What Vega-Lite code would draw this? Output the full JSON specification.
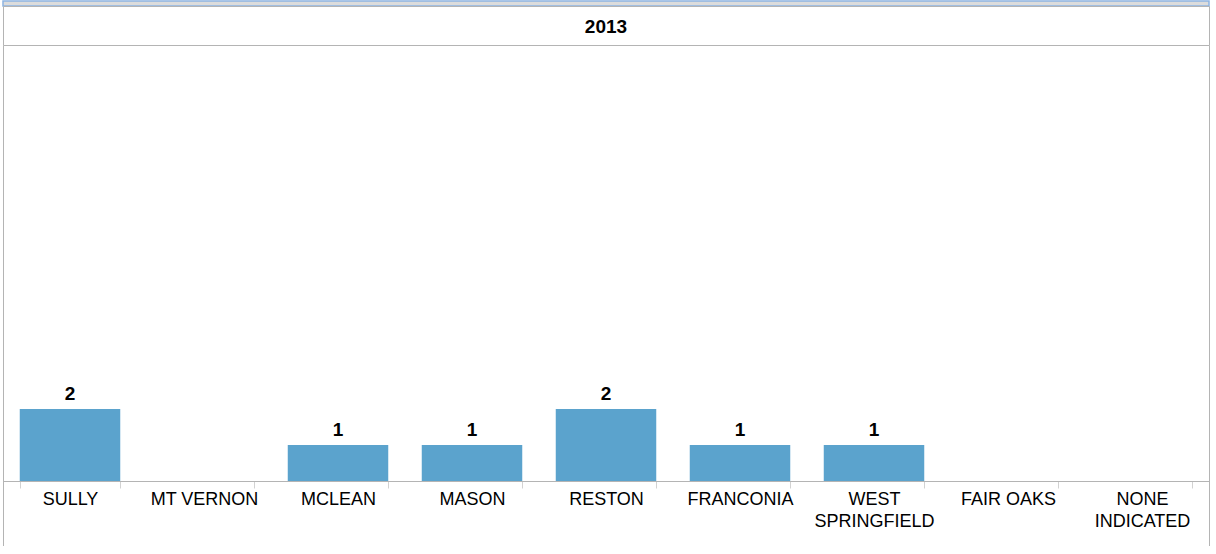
{
  "$schema": "https://vega.github.io/schema/vega-lite/v6.json",
  "padding": {"left": 2, "top": 0, "right": 8, "bottom": 0},
  "spacing": 0,
  "bounds": "flush",
  "config": {"view": {"stroke": null}, "font": "Liberation Sans"},
  "vconcat": [
    {
      "width": 1206,
      "height": 5,
      "data": {"values": []},
      "mark": {"type": "bar"},
      "encoding": {},
      "view": {"fill": "#dcdcdc", "stroke": "#8db4e2", "strokeWidth": 1.5}
    },
    {
      "width": 1206,
      "height": 39,
      "data": {"values": [{"year": "2013"}]},
      "mark": {"type": "text", "fontWeight": "bold", "fontSize": 19, "dy": 1, "color": "#000"},
      "encoding": {"text": {"field": "year"}},
      "view": {"stroke": "#b4b4b4"}
    },
    {
      "width": 1206,
      "height": 501,
      "data": {
        "values": [
          {"district": "SULLY", "count": 2},
          {"district": "MT VERNON", "count": 0},
          {"district": "MCLEAN", "count": 1},
          {"district": "MASON", "count": 1},
          {"district": "RESTON", "count": 2},
          {"district": "FRANCONIA", "count": 1},
          {"district": "WEST SPRINGFIELD", "count": 1},
          {"district": "FAIR OAKS", "count": 0},
          {"district": "NONE INDICATED", "count": 0}
        ]
      },
      "resolve": {"scale": {"y": "independent"}, "axis": {"y": "independent"}},
      "layer": [
        {
          "mark": {"type": "bar", "color": "#5ba3cd"},
          "encoding": {
            "x": {
              "field": "district",
              "type": "nominal",
              "sort": null,
              "scale": {"paddingInner": 0.25, "paddingOuter": 0.125},
              "axis": {
                "title": null,
                "orient": "bottom",
                "offset": -65,
                "labelAngle": 0,
                "labelFontSize": 18,
                "labelColor": "#000",
                "labelFont": "Liberation Sans",
                "labelPadding": 2,
                "labelOverlap": false,
                "labelLineHeight": 22,
                "tickSize": 7,
                "tickBand": "extent",
                "tickColor": "#d2d2d2",
                "domainColor": "#b4b4b4",
                "labelExpr": "datum.label == 'WEST SPRINGFIELD' ? ['WEST', 'SPRINGFIELD'] : datum.label == 'NONE INDICATED' ? ['NONE', 'INDICATED'] : datum.label"
              }
            },
            "y": {
              "field": "count",
              "type": "quantitative",
              "scale": {"domain": [-1.8, 12.1], "nice": false, "zero": false},
              "axis": {"orient": "left", "labels": false, "ticks": false, "grid": false, "title": null, "domainColor": "#b4b4b4"}
            },
            "y2": {"datum": 0}
          }
        },
        {
          "transform": [{"filter": "datum.count > 0"}],
          "mark": {"type": "text", "fontWeight": "bold", "fontSize": 19, "baseline": "bottom", "dy": -5, "color": "#000"},
          "encoding": {
            "x": {"field": "district", "type": "nominal", "sort": null},
            "y": {
              "field": "count",
              "type": "quantitative",
              "scale": {"domain": [-1.8, 12.1], "nice": false, "zero": false},
              "axis": {"orient": "right", "labels": false, "ticks": false, "grid": false, "title": null, "domainColor": "#b4b4b4"}
            },
            "text": {"field": "count"}
          }
        }
      ]
    }
  ]
}
